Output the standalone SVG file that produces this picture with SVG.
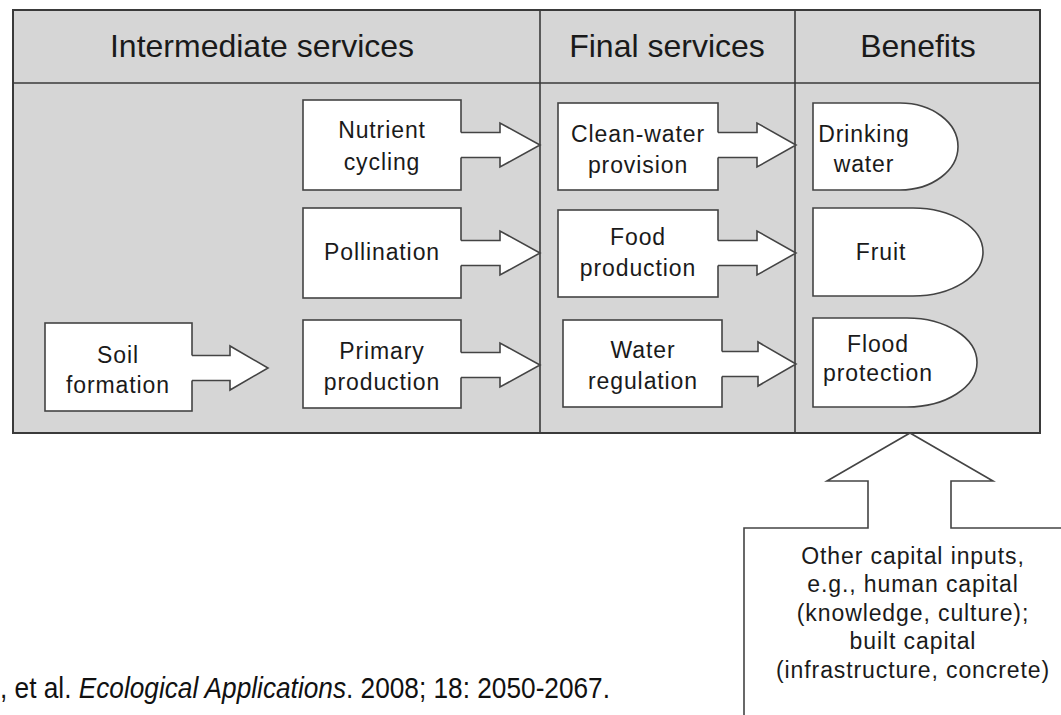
<svg xmlns="http://www.w3.org/2000/svg" width="1061" height="715" viewBox="0 0 1061 715">
<style>
.frame{fill:#d6d6d6;stroke:#3a3a3a;stroke-width:2}
.line{stroke:#3a3a3a;stroke-width:1.6;fill:none}
.box{fill:#fff;stroke:#444;stroke-width:1.6}
.af{fill:#fff;stroke:none}
.as{fill:none;stroke:#444;stroke-width:1.6;stroke-linejoin:miter}
.hd{font-family:"Liberation Sans",Arial,sans-serif;font-size:32px;fill:#1a1a1a;text-anchor:middle}
.t{font-family:"Liberation Sans",Arial,sans-serif;font-size:23px;fill:#1a1a1a;text-anchor:middle;letter-spacing:0.9px}
.cit{font-family:"Liberation Sans",Arial,sans-serif;font-size:29px;fill:#111}
</style>
<rect width="1061" height="715" fill="#fff"/>
<g id="frame">
<rect class="frame" x="13" y="10" width="1027" height="423"/>
<line class="line" x1="13" y1="83" x2="1040" y2="83"/>
<line class="line" x1="540" y1="10" x2="540" y2="433"/>
<line class="line" x1="795" y1="10" x2="795" y2="433"/>
<text class="hd" x="262" y="57">Intermediate services</text>
<text class="hd" x="667" y="57">Final services</text>
<text class="hd" x="918" y="57">Benefits</text>
</g>
<g id="nutrient"><rect class="box" x="303" y="100" width="158" height="90"/><text class="t" x="382" y="138">Nutrient</text><text class="t" x="382" y="170">cycling</text></g>
<g id="pollination"><rect class="box" x="303" y="208" width="158" height="90"/><text class="t" x="382" y="260">Pollination</text></g>
<g id="primary"><rect class="box" x="303" y="320" width="158" height="88"/><text class="t" x="382" y="359">Primary</text><text class="t" x="382" y="390">production</text></g>
<g id="soil"><rect class="box" x="45" y="323" width="147" height="88"/><text class="t" x="118" y="363">Soil</text><text class="t" x="118" y="393">formation</text></g>
<g id="cleanwater"><rect class="box" x="558" y="103" width="160" height="87"/><text class="t" x="638" y="142">Clean-water</text><text class="t" x="638" y="173">provision</text></g>
<g id="food"><rect class="box" x="558" y="210" width="160" height="87"/><text class="t" x="638" y="245">Food</text><text class="t" x="638" y="276">production</text></g>
<g id="waterreg"><rect class="box" x="563" y="320" width="159" height="87"/><text class="t" x="643" y="358">Water</text><text class="t" x="643" y="389">regulation</text></g>
<g id="drinking"><path class="box" d="M813,103 H900 A58,43.5 0 0 1 900,190 H813 Z"/><text class="t" x="864" y="142">Drinking</text><text class="t" x="864" y="172">water</text></g>
<g id="fruit"><path class="box" d="M813,208 H913 A70,44 0 0 1 913,296 H813 Z"/><text class="t" x="881" y="260">Fruit</text></g>
<g id="flood"><path class="box" d="M813,318 H907 A70,44.5 0 0 1 907,407 H813 Z"/><text class="t" x="878" y="352">Flood</text><text class="t" x="878" y="381">protection</text></g>
<g id="capital"><path d="M744,716 V528 H868 V481 H827 L910,433 L993,481 H951 V528 H1062 V716 Z" fill="#fff" stroke="none"/><path class="as" d="M744,716 V528 H868 V481 H827 L910,433 L993,481 H951 V528 H1062"/>
<text class="t" x="913" y="564">Other capital inputs,</text>
<text class="t" x="913" y="592">e.g., human capital</text>
<text class="t" x="913" y="621">(knowledge, culture);</text>
<text class="t" x="913" y="649">built capital</text>
<text class="t" x="913" y="678">(infrastructure, concrete)</text></g>
<g id="connectors">
<path class="af" d="M459,132.5 H500 V123 L540,145 L500,167 V157.5 H459 Z"/><path class="as" d="M461,132.5 H500 V123 L540,145 L500,167 V157.5 H461"/>
<path class="af" d="M459,240.5 H500 V231 L540,253 L500,275 V265.5 H459 Z"/><path class="as" d="M461,240.5 H500 V231 L540,253 L500,275 V265.5 H461"/>
<path class="af" d="M459,352.5 H500 V343 L540,365 L500,387 V377.5 H459 Z"/><path class="as" d="M461,352.5 H500 V343 L540,365 L500,387 V377.5 H461"/>
<path class="af" d="M190,355.5 H230 V346 L268,368 L230,390 V380.5 H190 Z"/><path class="as" d="M192,355.5 H230 V346 L268,368 L230,390 V380.5 H192"/>
<path class="af" d="M716,132.5 H757 V123 L796,145 L757,167 V157.5 H716 Z"/><path class="as" d="M718,132.5 H757 V123 L796,145 L757,167 V157.5 H718"/>
<path class="af" d="M716,240.5 H757 V231 L796,253 L757,275 V265.5 H716 Z"/><path class="as" d="M718,240.5 H757 V231 L796,253 L757,275 V265.5 H718"/>
<path class="af" d="M720,351.5 H758 V342 L796,364 L758,386 V376.5 H720 Z"/><path class="as" d="M722,351.5 H758 V342 L796,364 L758,386 V376.5 H722"/>
</g>
<text class="cit" x="0" y="698" textLength="610" lengthAdjust="spacingAndGlyphs">, et al. <tspan font-style="italic">Ecological Applications</tspan>. 2008; 18: 2050-2067.</text>
</svg>
